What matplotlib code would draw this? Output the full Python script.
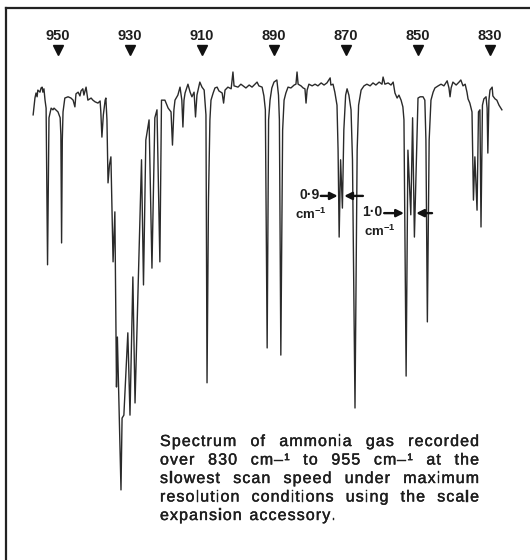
import matplotlib.pyplot as plt
import matplotlib.patheffects as pe
from matplotlib.font_manager import FontProperties

# recorder trace of the ammonia spectrum: wavenumber (cm-1) vs transmittance (%)
wavenumber = [
    956.9, 956.4, 956.1, 955.8, 955.6, 955.0, 954.7, 954.4, 954.2, 953.9,
    953.6, 953.3, 952.9, 952.6, 952.5, 951.9, 951.4, 951.1, 950.6, 950.0,
    949.4, 949.2, 949.0, 948.8, 948.6, 948.1, 947.2, 946.4, 945.8, 945.3,
    945.0, 944.4, 943.9, 943.6, 943.1, 942.8, 942.2, 941.7, 940.8, 940.3,
    939.7, 938.9, 938.3, 938.1, 937.8, 937.4, 936.9, 936.7, 936.4, 936.1,
    935.7, 935.3, 934.7, 934.2, 933.75, 933.5, 932.5, 932.2, 931.7, 930.6,
    930.0, 929.2, 928.6, 926.8, 926.25, 925.6, 924.7, 923.9, 923.1, 922.5,
    921.7, 921.25, 920.3, 919.4, 918.6, 918.2, 917.8, 917.5, 916.7, 916.1,
    915.6, 915.3, 915.0, 914.7, 913.9, 913.3, 912.8, 912.2, 911.8, 911.4,
    911.1, 910.6, 910.0, 909.4, 909.2, 908.9, 908.6, 908.2, 907.8, 907.5,
    906.9, 906.4, 905.8, 905.3, 904.4, 904.0, 903.6, 902.8, 901.9, 901.4,
    901.1, 900.0, 899.2, 898.6, 897.8, 896.9, 896.1, 895.3, 894.7, 894.2,
    893.3, 892.8, 892.4, 891.9, 891.5, 891.1, 890.6, 890.0, 889.2, 888.75,
    888.5, 888.1, 887.6, 887.2, 886.7, 886.1, 885.3, 884.4, 883.9, 883.6,
    883.3, 882.5, 881.9, 881.4, 881.1, 880.8, 880.3, 879.4, 878.6, 877.8,
    876.9, 876.1, 875.3, 874.4, 874.2, 873.6, 873.1, 872.5, 872.2, 871.9,
    871.5, 871.0, 870.6, 870.1, 869.7, 869.2, 868.6, 868.2, 867.5, 866.9,
    866.5, 865.8, 865.0, 864.2, 863.3, 862.5, 861.7, 860.8, 860.0, 859.7,
    859.2, 858.3, 857.5, 856.9, 856.4, 855.8, 855.3, 854.7, 854.2, 853.9,
    853.3, 852.8, 852.0, 851.5, 851.0, 850.0, 849.4, 848.6, 848.1, 847.8,
    847.4, 846.9, 846.4, 845.8, 845.3, 844.4, 843.6, 842.8, 841.9, 841.4,
    841.1, 840.8, 840.3, 839.4, 838.6, 838.1, 837.5, 836.9, 836.4, 836.1,
    835.6, 835.0, 834.6, 834.2, 833.6, 833.2, 832.8, 832.5, 832.1, 831.7,
    831.1, 830.8, 830.6, 830.3, 830.0, 829.4, 829.2, 828.6, 828.1, 827.5,
    826.7,
]
transmittance = [
    91.7, 95.7, 96.9, 96.0, 97.6, 97.1, 98.1, 98.3, 97.1, 97.9,
    95.2, 93.3, 56.0, 83.3, 91.0, 93.3, 92.9, 93.3, 92.9, 92.4,
    91.0, 86.9, 61.2, 85.7, 92.4, 95.7, 96.0, 95.7, 95.2, 93.6,
    96.7, 97.1, 96.2, 97.4, 97.9, 96.4, 98.3, 95.2, 95.7, 95.2,
    94.8, 94.5, 95.0, 92.4, 86.4, 91.7, 95.2, 95.7, 90.5, 75.5,
    79.8, 81.7, 56.7, 68.6, 26.9, 38.8, 2.4, 19.5, 20.2, 39.8,
    20.2, 53.1, 23.1, 81.0, 51.2, 85.7, 90.5, 55.2, 91.0, 92.9,
    56.7, 95.2, 95.2, 93.3, 92.4, 84.5, 92.9, 95.2, 96.4, 98.3,
    95.2, 88.8, 95.2, 96.9, 99.0, 97.1, 96.0, 97.1, 91.2, 96.4,
    97.6, 99.5, 98.3, 97.6, 95.2, 91.7, 27.9, 71.4, 90.5, 95.2,
    96.9, 98.1, 98.3, 97.4, 96.9, 94.5, 97.6, 98.3, 97.9, 101.9,
    98.6, 98.3, 99.0, 98.6, 98.1, 98.8, 98.3, 99.0, 99.5, 98.6,
    98.3, 96.2, 92.9, 36.2, 90.5, 95.2, 98.1, 99.5, 100.0, 96.4,
    90.5, 34.5, 88.1, 95.2, 96.9, 98.3, 98.1, 98.8, 99.0, 101.9,
    99.0, 98.6, 98.1, 97.9, 94.5, 97.6, 99.0, 98.6, 99.0, 98.6,
    99.3, 98.8, 99.3, 100.5, 98.8, 99.0, 97.1, 94.0, 83.3, 62.6,
    81.0, 69.5, 88.1, 96.4, 97.9, 96.4, 92.9, 81.0, 21.9, 83.3,
    94.0, 97.6, 98.6, 99.0, 98.6, 99.3, 98.8, 99.5, 99.0, 100.7,
    99.0, 99.3, 98.8, 99.5, 96.9, 95.7, 96.4, 95.2, 93.6, 90.5,
    29.5, 83.3, 67.9, 91.0, 62.6, 95.7, 96.0, 96.0, 95.2, 85.7,
    42.4, 85.7, 95.2, 97.1, 98.1, 98.6, 99.0, 98.6, 99.8, 98.1,
    96.0, 98.1, 99.5, 98.8, 99.5, 100.0, 98.6, 99.0, 97.1, 95.5,
    94.5, 92.4, 71.4, 81.7, 69.0, 92.4, 92.9, 65.0, 94.0, 95.5,
    96.0, 93.3, 82.6, 95.2, 97.6, 98.3, 96.2, 95.5, 95.2, 94.0,
    92.9,
]

tick_wavenumbers = [950, 930, 910, 890, 870, 850, 830]

# resolved doublets and their separations
doublet_lines = [(871.9, 871.0), (852.0, 851.0)]
doublet_labels = ["0·9", "1·0"]

caption_lines = [
    "Spectrum of ammonia gas recorded",
    "over 830 cm–¹ to 955 cm–¹ at the",
    "slowest scan speed under maximum",
    "resolution conditions using the scale",
    "expansion accessory.",
]

plt.rcParams["mathtext.fontset"] = "custom"
plt.rcParams["mathtext.rm"] = "Liberation Sans"
plt.rcParams["mathtext.bf"] = "Liberation Sans:bold"

W, H = 530, 560
ink = "#1e1e1e"
fig = plt.figure(figsize=(W / 100, H / 100), dpi=100)
fig.patch.set_facecolor("white")

ax = fig.add_axes([6 / W, 0, 1 - 6 / W, 1 - 8 / H])
ax.plot(wavenumber, transmittance, color="#2a2a2a", lw=1.0)
ax.set_xlim(964.44, 818.89)
ax.set_ylim(-14.29, 117.14)
ax.set_xticks([])
ax.set_yticks([])
for side in ["right", "bottom"]:
    ax.spines[side].set_visible(False)
for side in ["left", "top"]:
    ax.spines[side].set_color("#222222")
    ax.spines[side].set_linewidth(1.6)

# wavenumber markers along the top
ax.plot(tick_wavenumbers, [107.1] * len(tick_wavenumbers), "v",
        color="#111111", ms=6.5)
for wn in tick_wavenumbers:
    ax.text(wn, 110.4, str(wn), ha="center", va="center", fontsize=10.5,
            fontweight="bold", family="Liberation Sans", color=ink)

# arrows marking the two resolved doublets
layout = [
    # label x, label y, unit x, unit y, left tail, right tail, tip gaps
    (877.3, 72.6, 884.1, 68.0, 877.0, 865.3, 0.4, 0.5),
    (859.8, 68.5, 865.1, 64.0, 859.4, 846.1, 1.9, 0.5),
]
arrow = dict(arrowstyle="-|>", color="#111111", lw=1.7,
             mutation_scale=11, shrinkA=0, shrinkB=0)
for (hi, lo), label, (lx, ly, ux, uy, lt, rt, gl, gr) in zip(
        doublet_lines, doublet_labels, layout):
    ax.text(lx, ly, label, ha="right", va="center", fontsize=10,
            fontweight="bold", family="Liberation Sans", color=ink)
    ax.text(ux, uy, r"cm$^{\mathbf{-1}}$", ha="left", va="center",
            fontsize=9.5, fontweight="bold", family="Liberation Sans",
            color=ink)
    ay = ly - 0.2
    ax.annotate("", xy=(hi + gl, ay), xytext=(lt, ay), arrowprops=arrow)
    ax.annotate("", xy=(lo - gr, ay), xytext=(rt, ay), arrowprops=arrow)

# justified caption, drawn letter by letter with a little tracking
renderer = fig.canvas.get_renderer()
prop = FontProperties(family="Liberation Sans", size=11.5)
track = 1.1
thicken = [pe.withStroke(linewidth=0.3, foreground=ink)]


def char_width(c):
    return renderer.get_text_width_height_descent(c, prop, ismath=False)[0]


def word_width(w):
    return sum(char_width(c) for c in w) + track * (len(w) - 1)


left, right = 160, 479
for i, line in enumerate(caption_lines):
    words = line.split()
    baseline = 446 + 18.5 * i
    widths = [word_width(w) for w in words]
    if i < len(caption_lines) - 1:
        gap = (right - left - sum(widths)) / (len(words) - 1)
    else:
        gap = char_width(" ") + 3 * track
    x = left
    for w, wd in zip(words, widths):
        cx = x
        for c in w:
            fig.text(cx / W, 1 - baseline / H, c, fontproperties=prop,
                     color=ink, va="baseline", ha="left",
                     path_effects=thicken)
            cx += char_width(c) + track
        x += wd + gap

fig.savefig("out.png", dpi=100, facecolor="white")
